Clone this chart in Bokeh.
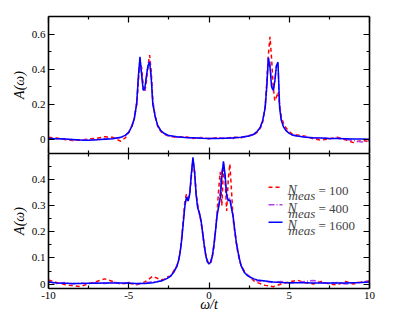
import math
from bokeh.plotting import figure
from bokeh.layouts import column
from bokeh.models import LinearAxis, FixedTicker, Range1d, Label, Arrow
from bokeh.embed import file_html
from bokeh.resources import INLINE

# ---------------- data ----------------
omega_top = [-10, -9.5, -9, -8.5, -8, -7.5, -7, -6.5, -6, -5.5,
             -5.2, -5.0, -4.8, -4.65, -4.5, -4.4, -4.3, -4.2, -4.1, -4.0, -3.9, -3.8, -3.7, -3.6, -3.5, -3.35, -3.2, -3.0, -2.8, -2.5,
             -2, -1.5, -1, -0.5, 0, 0.5, 1, 1.5, 2,
             2.5, 2.8, 3.0, 3.2, 3.35, 3.5, 3.6, 3.7, 3.8, 3.9, 4.0, 4.1, 4.2, 4.3, 4.4, 4.5, 4.65, 4.8, 5.0, 5.2,
             5.5, 6, 6.5, 7, 7.5, 8, 8.5, 9, 9.5, 10]

A100_top = [0.012, 0.008, 0.0, -0.006, -0.004, 0.003, 0.006, 0.016, 0.012, -0.01,
            0.01, 0.04, 0.08, 0.12, 0.2, 0.33, 0.44, 0.41, 0.31, 0.27, 0.33, 0.42, 0.48, 0.39, 0.22, 0.13, 0.075, 0.045, 0.03, 0.018,
            0.012, 0.016, 0.006, 0.011, 0.004, 0.01, 0.005, 0.013, 0.009,
            0.022, 0.028, 0.04, 0.065, 0.1, 0.19, 0.33, 0.48, 0.585, 0.46, 0.3, 0.22, 0.24, 0.27, 0.2, 0.13, 0.09, 0.065, 0.045, 0.03,
            0.026, 0.018, 0.004, -0.004, 0.004, 0.012, -0.002, -0.018, -0.006, -0.012]

A400_top = [0.006, 0.003, 0.004, -0.002, -0.004, -0.002, 0.0, 0.004, 0.006, 0.01,
            0.022, 0.042, 0.078, 0.125, 0.215, 0.35, 0.46, 0.38, 0.285, 0.28, 0.35, 0.425, 0.45, 0.36, 0.21, 0.13, 0.08, 0.048, 0.033, 0.02,
            0.014, 0.012, 0.008, 0.009, 0.005, 0.008, 0.01, 0.006, 0.012,
            0.021, 0.03, 0.046, 0.07, 0.11, 0.185, 0.31, 0.47, 0.44, 0.31, 0.27, 0.33, 0.42, 0.42, 0.2, 0.115, 0.072, 0.052, 0.036, 0.024,
            0.02, 0.015, 0.008, 0.01, 0.004, 0.007, 0.0, -0.006, -0.014, -0.008]

A1600_top = [0.005, 0.004, 0.002, 0.0, -0.003, -0.004, -0.002, 0.001, 0.004, 0.012,
             0.025, 0.04, 0.075, 0.12, 0.21, 0.36, 0.47, 0.37, 0.28, 0.29, 0.36, 0.42, 0.44, 0.35, 0.2, 0.13, 0.08, 0.05, 0.035, 0.022,
             0.015, 0.011, 0.009, 0.007, 0.006, 0.006, 0.007, 0.009, 0.013,
             0.02, 0.03, 0.045, 0.07, 0.11, 0.18, 0.3, 0.465, 0.41, 0.3, 0.28, 0.33, 0.42, 0.44, 0.18, 0.11, 0.07, 0.05, 0.035, 0.025,
             0.02, 0.013, 0.01, 0.008, 0.006, 0.005, 0.004, 0.003, 0.002, 0.001]

omega_bot = [-10, -9.5, -9, -8.5, -8, -7.5, -7, -6.5, -6, -5.5, -5, -4.5, -4, -3.5, -3,
             -2.8, -2.6, -2.4, -2.2,
             -2.0, -1.9, -1.8, -1.7, -1.6, -1.5, -1.4, -1.3, -1.2, -1.1, -1.0, -0.9, -0.8, -0.7, -0.6, -0.5, -0.4,
             -0.3, -0.2, -0.1, 0.0, 0.1, 0.2, 0.3, 0.4, 0.5, 0.6, 0.7, 0.8, 0.9, 1.0, 1.1, 1.2, 1.3, 1.4, 1.5, 1.6,
             1.7, 1.8, 1.9, 2.0,
             2.2, 2.4, 2.6, 2.8,
             3, 3.5, 4, 4.5, 5, 5.5, 6, 6.5, 7, 7.5, 8, 8.5, 9, 9.5, 10]

A100_bot = [0.016, 0.006, -0.002, -0.006, -0.01, 0.002, 0.01, 0.02, 0.01, 0.0, 0.004, -0.003, 0.008, 0.03, 0.016,
            0.018, 0.028, 0.03, 0.05,
            0.07, 0.09, 0.125, 0.18, 0.25, 0.32, 0.345, 0.33, 0.34, 0.41, 0.475, 0.43, 0.35, 0.3, 0.27, 0.24, 0.195,
            0.15, 0.11, 0.09, 0.078, 0.08, 0.1, 0.14, 0.2, 0.27, 0.36, 0.43, 0.3, 0.44, 0.4, 0.28, 0.4, 0.46, 0.36, 0.25, 0.2,
            0.16, 0.12, 0.09, 0.072,
            0.05, 0.035, 0.025, 0.012,
            0.006, -0.005, -0.01, 0.0, 0.008, 0.015, 0.005, 0.0, 0.01, 0.0, -0.003, 0.01, 0.0, 0.008, 0.012]

A400_bot = [0.01, 0.002, 0.006, 0.0, 0.004, 0.001, 0.006, 0.002, 0.007, 0.003, 0.006, 0.0, 0.005, 0.008, 0.012,
            0.015, 0.024, 0.03, 0.046,
            0.07, 0.09, 0.122, 0.172, 0.24, 0.305, 0.335, 0.32, 0.35, 0.425, 0.48, 0.43, 0.345, 0.295, 0.27, 0.24, 0.198,
            0.148, 0.108, 0.086, 0.078, 0.085, 0.108, 0.15, 0.205, 0.27, 0.3, 0.35, 0.43, 0.465, 0.41, 0.33, 0.32, 0.33, 0.3, 0.26, 0.21,
            0.162, 0.128, 0.096, 0.072,
            0.044, 0.034, 0.026, 0.02,
            0.012, 0.01, 0.006, 0.01, 0.004, 0.006, 0.01, 0.014, 0.006, 0.002, 0.006, 0.0, 0.004, 0.008, 0.01]

A1600_bot = [0.008, 0.004, 0.003, 0.002, 0.002, 0.003, 0.003, 0.004, 0.004, 0.004, 0.003, 0.002, 0.002, 0.005, 0.012,
             0.016, 0.022, 0.03, 0.045,
             0.068, 0.088, 0.12, 0.17, 0.235, 0.3, 0.333, 0.318, 0.345, 0.42, 0.485, 0.43, 0.34, 0.29, 0.273, 0.245, 0.2,
             0.15, 0.11, 0.085, 0.077, 0.084, 0.105, 0.145, 0.2, 0.26, 0.295, 0.33, 0.41, 0.47, 0.42, 0.34, 0.32, 0.322, 0.29, 0.26, 0.21,
             0.16, 0.125, 0.095, 0.07,
             0.045, 0.032, 0.025, 0.02,
             0.016, 0.012, 0.008, 0.006, 0.005, 0.005, 0.005, 0.004, 0.004, 0.004, 0.004, 0.004, 0.005, 0.006, 0.008]

x_ticks = [-10, -5, 0, 5, 10]
x_minor = [-7.5, -2.5, 2.5, 7.5]
x_tick_labels = {-10: "-10", -5: "-5", 0: "0", 5: "5", 10: "10"}
top_y_ticks = [0, 0.2, 0.4, 0.6]
top_y_minor = [0.1, 0.3, 0.5]
top_y_labels = {0: "0", 0.2: "0.2", 0.4: "0.4", 0.6: "0.6"}
bot_y_ticks = [0, 0.1, 0.2, 0.3, 0.4]
bot_y_minor = [0.05, 0.15, 0.25, 0.35, 0.45]
bot_y_labels = {0: "0", 0.1: "0.1", 0.2: "0.2", 0.3: "0.3", 0.4: "0.4"}
y_title = "A(ω)"
x_title = "ω/t"
legend_values = ["= 100", "= 400", "= 1600"]

SERIF = "Liberation Serif"
RED = "#ff0000"
VIOLET = "#b040f0"
BLUE = "#0000ff"
STYLES = [(RED, "4 3"), (VIOLET, "6 2 1 2"), (BLUE, "solid")]


def style_axis(ax, ticks, minor, labels=None, title=None):
    ax.ticker = FixedTicker(ticks=ticks, minor_ticks=minor)
    ax.axis_label = title
    ax.axis_line_color = "black"
    ax.axis_line_width = 1.6
    ax.major_tick_in = 6
    ax.major_tick_out = 0
    ax.minor_tick_in = 3
    ax.minor_tick_out = 0
    ax.major_tick_line_color = "black"
    ax.major_tick_line_width = 1.2
    ax.minor_tick_line_color = "black"
    ax.minor_tick_line_width = 1.2
    if labels:
        ax.major_label_overrides = labels
        ax.major_label_text_font = SERIF
        ax.major_label_text_font_size = "11px"
        ax.major_label_text_color = "black"
        ax.major_label_standoff = 3
    else:
        ax.major_label_text_font_size = "0px"
        ax.major_label_standoff = 0
    if title:
        ax.axis_label_text_font = SERIF
        ax.axis_label_text_font_size = "14px"
        ax.axis_label_text_font_style = "italic"
        ax.axis_label_text_color = "black"


def make_fig(yr, fh, top_border, bottom_border, yt, ym, ylab, xlab, xtitle):
    p = figure(frame_width=321, frame_height=fh,
               x_range=Range1d(-10, 10), y_range=Range1d(*yr),
               output_backend="svg", toolbar_location=None,
               min_border_left=48, min_border_right=12,
               min_border_top=top_border, min_border_bottom=bottom_border)
    p.grid.visible = False
    p.outline_line_color = None
    p.add_layout(LinearAxis(), "above")
    p.add_layout(LinearAxis(), "right")
    style_axis(p.below[0], x_ticks, x_minor, xlab, xtitle)
    style_axis(p.above[0], x_ticks, x_minor, None)
    style_axis(p.left[0], yt, ym, ylab, y_title)
    style_axis(p.right[0], yt, ym, None)
    p.left[0].axis_label_standoff = 2
    if xtitle:
        p.below[0].axis_label_standoff = -5
    return p


def draw(p, x, a100, a400, a1600):
    for a, (c, d) in zip([a100, a400, a1600], STYLES):
        p.line(x, a, line_color=c, line_width=1.5, line_dash=d)


top = make_fig((-0.08, 0.7), 137, 16, 0, top_y_ticks, top_y_minor, top_y_labels, None, None)
draw(top, omega_top, A100_top, A400_top, A1600_top)

bot = make_fig((-0.017, 0.5), 135, 0, 28, bot_y_ticks, bot_y_minor, bot_y_labels, x_tick_labels, x_title)
draw(bot, omega_bot, A100_bot, A400_bot, A1600_bot)

# legend (built by hand for the subscripted label)
row_center = [101.3, 83.7, 66.3]
for yc, txt, (c, d) in zip(row_center, legend_values, STYLES):
    bot.add_layout(Arrow(x_start=220, y_start=yc, x_end=234, y_end=yc,
                         start_units="screen", end_units="screen", start=None, end=None,
                         line_color=c, line_width=1.5, line_dash=d))
    yb = yc - 3.3
    bot.add_layout(Label(x=239, y=yb, x_units="screen", y_units="screen", text="N",
                         text_baseline="alphabetic", text_font=SERIF, text_font_style="italic",
                         text_font_size="14px"))
    bot.add_layout(Label(x=240, y=yb - 5, x_units="screen", y_units="screen", text="meas",
                         text_baseline="alphabetic", text_font=SERIF, text_font_style="italic",
                         text_font_size="13px"))
    bot.add_layout(Label(x=270, y=yb, x_units="screen", y_units="screen", text=txt,
                         text_baseline="alphabetic", text_font=SERIF, text_font_size="13px"))

layout = column(top, bot, spacing=0)
open("out.html", "w").write(file_html(layout, INLINE))
